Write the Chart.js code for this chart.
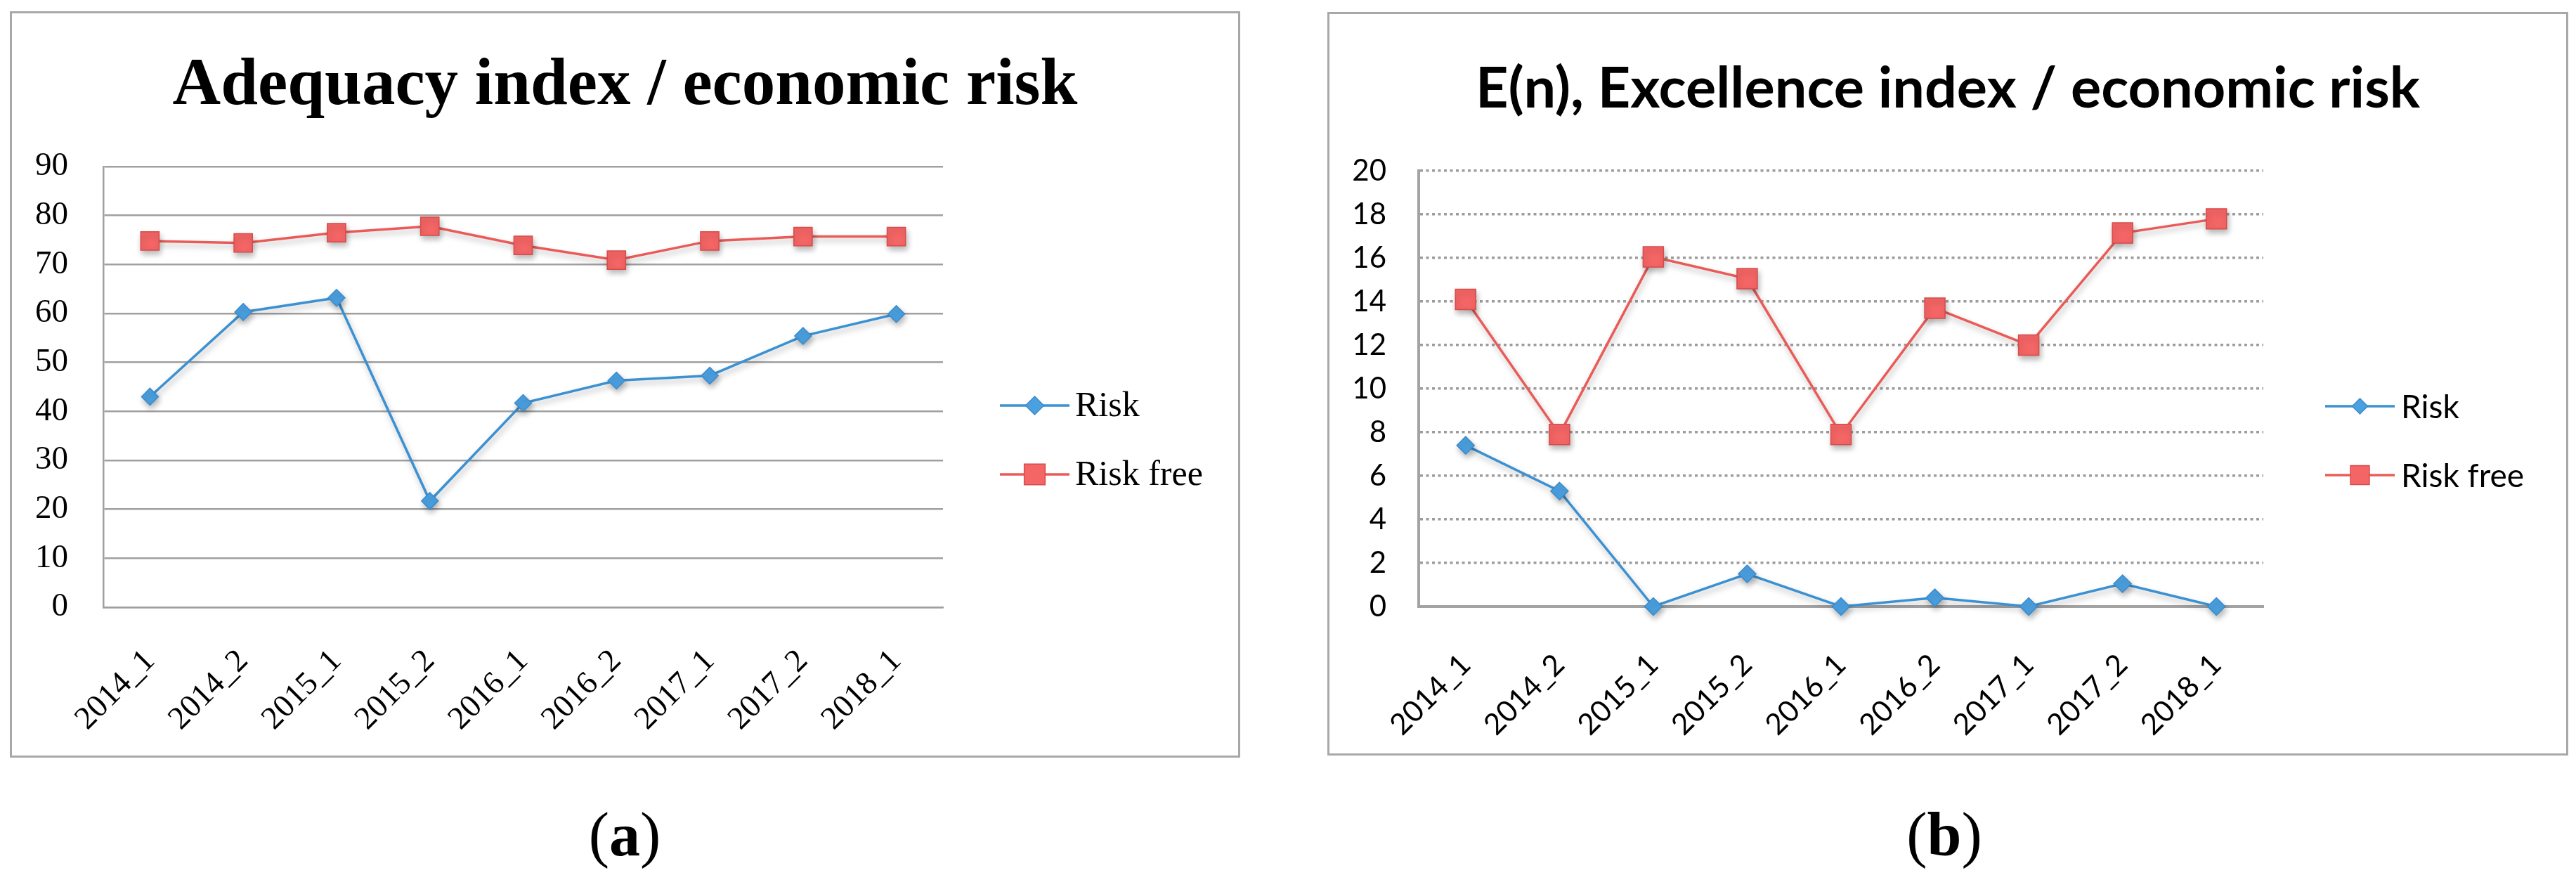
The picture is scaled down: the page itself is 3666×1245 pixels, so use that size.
<!DOCTYPE html>
<html>
<head>
<meta charset="utf-8">
<title>Adequacy and Excellence index / economic risk</title>
<script src="https://cdn.jsdelivr.net/npm/chart.js@4.4.1/dist/chart.umd.min.js"></script>
<style>
  html, body { margin: 0; padding: 0; background: #fff; }
  body { width: 3666px; height: 1245px; position: relative; overflow: hidden; }
  .frame { position: absolute; box-sizing: border-box; border: 3px solid #a8a8a8; background: #fff; }
  .frame .inner { position: relative; width: 100%; height: 100%; }
  .caption { position: absolute; width: 200px; text-align: center; font-family: "Liberation Serif", serif; font-size: 88px; line-height: 100px; color: #000; }
</style>
</head>
<body>
  <div class="frame" style="left:14px; top:16px; width:1751px; height:1062px;">
    <div class="inner"><canvas id="adequacyChart"></canvas></div>
  </div>
  <div class="frame" style="left:1889px; top:17px; width:1766px; height:1058px;">
    <div class="inner"><canvas id="excellenceChart"></canvas></div>
  </div>
  <div class="caption" style="left:789px; top:1138px;">(<b>a</b>)</div>
  <div class="caption" style="left:2667px; top:1138px;">(<b>b</b>)</div>

<script>
const categories = ["2014_1", "2014_2", "2015_1", "2015_2", "2016_1", "2016_2", "2017_1", "2017_2", "2018_1"];
const seriesNames = ["Risk", "Risk free"];

// (a) Adequacy index
const adequacyRisk = [43.0, 60.3, 63.2, 21.7, 41.7, 46.3, 47.3, 55.4, 59.9];
const adequacyRiskFree = [74.8, 74.4, 76.5, 77.8, 73.9, 70.9, 74.8, 75.7, 75.7];
const adequacyTicks = [0, 10, 20, 30, 40, 50, 60, 70, 80, 90];

// (b) E(n), Excellence index
const excellenceRisk = [7.4, 5.3, 0, 1.5, 0, 0.4, 0, 1.05, 0];
const excellenceRiskFree = [14.1, 7.9, 16.05, 15.05, 7.9, 13.7, 12.0, 17.15, 17.8];
const excellenceTicks = [0, 2, 4, 6, 8, 10, 12, 14, 16, 18, 20];

const BLUE_LINE = "#3b91d1";
const BLUE_FILL = "#4ba0e0";
const BLUE_EDGE = "#3a8bcd";
const RED_LINE = "#ea5b58";
const RED_FILL = "#f46565";
const RED_EDGE = "#d84b49";

function drawMarker(ctx, style, x, y, r, fill, edge) {
  ctx.beginPath();
  if (style === "rectRot") {
    ctx.moveTo(x, y - r);
    ctx.lineTo(x + r, y);
    ctx.lineTo(x, y + r);
    ctx.lineTo(x - r, y);
  } else {
    const s = r * Math.SQRT1_2;
    ctx.rect(x - s, y - s, 2 * s, 2 * s);
  }
  ctx.closePath();
  ctx.fillStyle = fill;
  ctx.fill();
  ctx.lineWidth = 1.5;
  ctx.strokeStyle = edge;
  ctx.stroke();
}

// drop shadow under the series + legend drawn like the spreadsheet one
const excelLook = {
  id: "excelLook",
  beforeDatasetsDraw(chart) {
    const ctx = chart.ctx;
    ctx.save();
    ctx.shadowColor = "rgba(0, 0, 0, 0.28)";
    ctx.shadowBlur = 8;
    ctx.shadowOffsetX = 2;
    ctx.shadowOffsetY = 5;
  },
  afterDatasetsDraw(chart) {
    chart.ctx.restore();
  },
  afterDraw(chart, args, opts) {
    const ctx = chart.ctx;
    ctx.save();
    chart.data.datasets.forEach((ds, i) => {
      const y = opts.rowY[i];
      ctx.strokeStyle = ds.borderColor;
      ctx.lineWidth = ds.borderWidth;
      ctx.beginPath();
      ctx.moveTo(opts.x0, y);
      ctx.lineTo(opts.x1, y);
      ctx.stroke();
      drawMarker(ctx, ds.pointStyle, (opts.x0 + opts.x1) / 2, y, opts.markerRadius[i], ds.pointBackgroundColor, ds.pointBorderColor);
      ctx.fillStyle = "#000";
      ctx.font = opts.font;
      ctx.textBaseline = "middle";
      ctx.textAlign = "left";
      ctx.fillText(ds.label, opts.textX, y + 2);
    });
    ctx.restore();
  },
};

function makeChart(canvasId, cfg) {
  const ticks = cfg.ticks;
  return new Chart(document.getElementById(canvasId), {
    type: "line",
    data: {
      labels: categories,
      datasets: [
        {
          label: seriesNames[0],
          data: cfg.risk,
          borderColor: BLUE_LINE,
          borderWidth: 3.5,
          pointStyle: "rectRot",
          pointRadius: cfg.diamondRadius,
          pointBackgroundColor: BLUE_FILL,
          pointBorderColor: BLUE_EDGE,
          pointBorderWidth: 1.5,
          tension: 0,
          clip: false,
        },
        {
          label: seriesNames[1],
          data: cfg.riskFree,
          borderColor: RED_LINE,
          borderWidth: 3.5,
          pointStyle: "rect",
          pointRadius: cfg.squareRadius,
          pointBackgroundColor: RED_FILL,
          pointBorderColor: RED_EDGE,
          pointBorderWidth: 1.5,
          tension: 0,
          clip: false,
        },
      ],
    },
    options: {
      responsive: true,
      maintainAspectRatio: false,
      devicePixelRatio: 1,
      animation: false,
      events: [],
      layout: { padding: 0 },
      plugins: {
        legend: { display: false },
        tooltip: { enabled: false },
        title: {
          display: true,
          text: cfg.title,
          color: "#000",
          font: cfg.titleFont,
          padding: cfg.titlePadding,
        },
        excelLook: cfg.legend,
      },
      scales: {
        x: {
          type: "category",
          offset: true,
          grid: { display: false, drawTicks: false },
          border: { display: true, color: cfg.axisColor, width: cfg.axisWidth },
          ticks: {
            color: "#000",
            font: cfg.xTickFont,
            minRotation: 45,
            maxRotation: 45,
            padding: cfg.xTickPadding,
            autoSkip: false,
          },
          afterFit: (scale) => { scale.height = cfg.xHeight; },
        },
        y: {
          min: ticks[0],
          max: ticks[ticks.length - 1],
          grid: {
            color: cfg.gridColor,
            lineWidth: cfg.gridWidth,
            drawTicks: false,
          },
          // in v4 border.dash styles the grid lines, the axis line stays solid
          border: { display: true, color: cfg.axisColor, width: cfg.axisWidth, dash: cfg.gridDash },
          ticks: {
            stepSize: ticks[1] - ticks[0],
            color: "#000",
            font: cfg.yTickFont,
            padding: cfg.yTickPadding,
          },
          afterFit: (scale) => { scale.width = cfg.yWidth; },
        },
        legendSpace: {
          position: "right",
          grid: { display: false, drawTicks: false },
          border: { display: false },
          ticks: { display: false },
          afterFit: (scale) => { scale.width = cfg.rightSpace; },
        },
      },
    },
    plugins: [excelLook],
  });
}

document.addEventListener("DOMContentLoaded", () => {
  makeChart("adequacyChart", {
    title: "Adequacy index / economic risk",
    titleFont: { family: "'Liberation Serif', serif", size: 95, weight: "bold", lineHeight: 1.2 },
    titlePadding: { top: 47, bottom: 57 },
    risk: adequacyRisk,
    riskFree: adequacyRiskFree,
    ticks: adequacyTicks,
    xTickFont: { family: "'Liberation Serif', serif", size: 46 },
    yTickFont: { family: "'Liberation Serif', serif", size: 47 },
    gridColor: "#a0a0a0",
    gridWidth: 2.5,
    gridDash: [],
    axisColor: "#a0a0a0",
    axisWidth: 2.5,
    diamondRadius: 12,
    squareRadius: 18.5,
    yWidth: 130,
    xHeight: 211,
    rightSpace: 420,
    xTickPadding: 50,
    yTickPadding: 50,
    legend: {
      x0: 1406, x1: 1505, textX: 1513, rowY: [558, 656],
      markerRadius: [13, 21],
      font: "50px 'Liberation Serif', serif",
    },
  });

  makeChart("excellenceChart", {
    title: "E(n), Excellence index / economic risk",
    titleFont: { family: "Lato, 'Open Sans', sans-serif", size: 81, weight: "bold", lineHeight: 1.2 },
    titlePadding: { top: 58, bottom: 68 },
    risk: excellenceRisk,
    riskFree: excellenceRiskFree,
    ticks: excellenceTicks,
    xTickFont: { family: "Lato, 'Open Sans', sans-serif", size: 42 },
    yTickFont: { family: "Lato, 'Open Sans', sans-serif", size: 42 },
    gridColor: "#9c9c9c",
    gridWidth: 3.5,
    gridDash: [4, 4.5],
    axisColor: "#a3a3a3",
    axisWidth: 4,
    diamondRadius: 12.5,
    squareRadius: 20.5,
    yWidth: 127,
    xHeight: 209,
    rightSpace: 431,
    xTickPadding: 58,
    yTickPadding: 46,
    legend: {
      x0: 1417, x1: 1516, textX: 1525, rowY: [558, 656],
      markerRadius: [11, 19],
      font: "46px Lato, 'Open Sans', sans-serif",
    },
  });
});
</script>
</body>
</html>
